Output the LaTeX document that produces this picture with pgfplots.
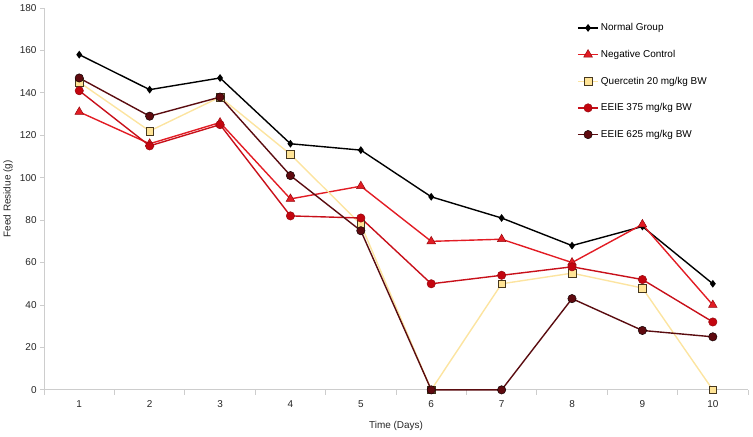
\documentclass[border=0pt]{standalone}
\usepackage{pgfplots}
\pgfplotsset{compat=1.18}
\usepackage{fontspec}
\setmainfont{Liberation Sans}
\definecolor{axgray}{RGB}{205,205,205}
\definecolor{negred}{RGB}{226,28,36}
\definecolor{negedge}{RGB}{150,10,15}
\definecolor{qline}{RGB}{252,228,160}
\definecolor{qfill}{RGB}{255,228,150}
\definecolor{qedge}{RGB}{70,55,30}
\definecolor{eeA}{RGB}{200,16,26}
\definecolor{eeAfill}{RGB}{195,5,15}
\definecolor{eeB}{RGB}{90,12,16}
\definecolor{eeBfill}{RGB}{95,10,15}
\begin{document}
\begin{tikzpicture}
\begin{axis}[
  at={(0,0)}, anchor=south west,
  scale only axis, width=706pt, height=383pt,
  xmin=0.5, xmax=10.5, ymin=0, ymax=180,
  axis x line*=bottom, axis y line*=left,
  axis line style={axgray, line width=0.8pt},
  xtick={1,...,10},
  minor xtick={0.5,1.5,...,10.5},
  x tick style={draw=none},
  minor x tick style={draw=axgray, line width=0.8pt},
  minor tick length=5pt,
  ytick={0,20,...,180},
  y tick style={axgray, line width=0.8pt},
  major tick length=4pt,
  tick align=outside,
  tick label style={font=\fontsize{10}{12}\selectfont, text=black!85},
  /pgf/number format/assume math mode=true,
  xticklabel style={yshift=-3pt},
  xlabel={Time (Days)}, ylabel={Feed Residue (g)},
  label style={font=\fontsize{10}{12}\selectfont, text=black!85},
  xlabel style={at={(axis description cs:0.5,0)}, anchor=north, yshift=-28pt},
  ylabel style={at={(axis description cs:0,0.5)}, anchor=south, yshift=28pt},
  legend style={at={(rel axis cs:0.757,0.965)}, anchor=north west, draw=none, fill=none,
    font=\fontsize{10}{12}\selectfont, row sep=14pt, inner sep=0pt},
  legend cell align=left,
  legend image code/.code={\draw[mark repeat=2,mark phase=2] plot coordinates {(0cm,0cm) (0.36cm,0cm) (0.72cm,0cm)};},
  clip=false,
]
\addplot[black, line width=1.4pt, mark=diamond*, mark size=2.8pt, mark options={fill=black, draw=black}]
 coordinates {(1,158)(2,141.5)(3,147)(4,116)(5,113)(6,91)(7,81)(8,68)(9,77)(10,50)};
\addlegendentry{Normal Group}
\addplot[negred, line width=1.4pt, mark=triangle*, mark size=5pt, mark options={fill=negred, draw=negedge, line width=0.5pt}]
 coordinates {(1,131)(2,116)(3,126)(4,90)(5,96)(6,70)(7,71)(8,60)(9,78)(10,40)};
\addlegendentry{Negative Control}
\addplot[qline, line width=1.4pt, mark=square*, mark size=3.8pt, mark options={fill=qfill, draw=qedge, line width=0.6pt}]
 coordinates {(1,145)(2,122)(3,138)(4,111)(5,78)(6,0)(7,50)(8,55)(9,48)(10,0)};
\addlegendentry{Quercetin 20 mg/kg BW}
\addplot[eeA, line width=1.4pt, mark=*, mark size=4.2pt, mark options={fill=eeAfill, draw=negedge, line width=0.5pt}]
 coordinates {(1,141)(2,115)(3,125)(4,82)(5,81)(6,50)(7,54)(8,58)(9,52)(10,32)};
\addlegendentry{EEIE 375 mg/kg BW}
\addplot[eeB, line width=1.4pt, mark=*, mark size=4.2pt, mark options={fill=eeBfill, draw=black!80!eeB, line width=0.5pt}]
 coordinates {(1,147)(2,129)(3,138)(4,101)(5,75)(6,0)(7,0)(8,43)(9,28)(10,25)};
\addlegendentry{EEIE 625 mg/kg BW}
\end{axis}
\path[use as bounding box] (-42pt,-47pt) rectangle (711pt,391pt);
\end{tikzpicture}
\end{document}
